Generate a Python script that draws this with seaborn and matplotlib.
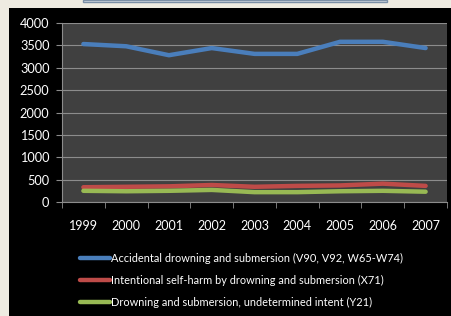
import matplotlib
matplotlib.use('Agg')
import matplotlib.pyplot as plt
from matplotlib.patches import Rectangle
import seaborn as sns
import pandas as pd
import numpy as np

years = ['1999', '2000', '2001', '2002', '2003', '2004', '2005', '2006', '2007']
accidental = [3530, 3480, 3280, 3440, 3310, 3310, 3580, 3580, 3440]
self_harm = [330, 340, 350, 380, 340, 360, 370, 410, 360]
undetermined = [250, 240, 250, 270, 220, 220, 240, 250, 230]

series_names = ['Accidental drowning and submersion (V90, V92, W65-W74)',
                'Intentional self-harm by drowning and submersion (X71)',
                'Drowning and submersion, undetermined intent (Y21)']
colors = ['#4a7ebb', '#be4b48', '#98b954']

# long format for seaborn
df = pd.DataFrame({
    'year': years * 3,
    'deaths': accidental + self_harm + undetermined,
    'cause': [series_names[0]] * 9 + [series_names[1]] * 9 + [series_names[2]] * 9,
})

plt.rcParams['font.family'] = ['Lato', 'DejaVu Sans']

fig = plt.figure(figsize=(4.52, 3.16), dpi=100, facecolor='#eeebe1')
W, H = 452, 316

# black chart frame
fig.patches.append(Rectangle((9 / W, 0), 1 - 9 / W, 1 - 8 / H, transform=fig.transFigure,
                             facecolor='black', edgecolor='none', zorder=-10))
# sliver of the title box at the top
fig.patches.append(Rectangle((83 / W, 1 - 2 / H), (387 - 83) / W, 2 / H, transform=fig.transFigure,
                             facecolor='#dfe3e8', edgecolor='#7b8fa6', linewidth=1, zorder=-10))

ax = fig.add_axes([62 / W, 1 - 202 / H, (447 - 62) / W, (202 - 23) / H])
ax.set_facecolor('#404040')

sns.lineplot(data=df, x='year', y='deaths', hue='cause', palette=colors,
             linewidth=3.2, ax=ax, legend=False, sort=False)
for line in ax.lines:
    line.set_solid_capstyle('round')
    line.set_solid_joinstyle('round')

ax.set_xlim(-0.5, 8.5)
ax.set_ylim(0, 4000)
ax.set_yticks(np.arange(0, 4001, 500))
ax.yaxis.grid(True, color='#8c8c8c', linewidth=0.8)
ax.set_axisbelow(True)
ax.set_xlabel('')
ax.set_ylabel('')

for s in ['top', 'right']:
    ax.spines[s].set_visible(False)
for s in ['left', 'bottom']:
    ax.spines[s].set_color('#8c8c8c')
    ax.spines[s].set_linewidth(0.8)

ax.set_xticks(range(len(years)))
ax.set_xticklabels(years)
ax.set_xticks(np.arange(-0.5, 9, 1), minor=True)
ax.tick_params(axis='x', which='major', length=0, pad=13, labelsize=9, labelcolor='white')
ax.tick_params(axis='x', which='minor', length=4, color='#8c8c8c', direction='out')
ax.tick_params(axis='y', length=4, color='#8c8c8c', labelsize=9.2, labelcolor='white', pad=5)

handles = [plt.Line2D([0], [0], color=c, linewidth=3.2, solid_capstyle='round') for c in colors]
ax.legend(handles, series_names, loc='upper left', bbox_to_anchor=(75 / W, 1 - 247 / H),
          bbox_transform=fig.transFigure, frameon=False, labelcolor='white', fontsize=7.9,
          handlelength=2.7, handletextpad=0.1, labelspacing=1.0, borderpad=0)

fig.savefig('out.png', dpi=100, facecolor=fig.get_facecolor())
